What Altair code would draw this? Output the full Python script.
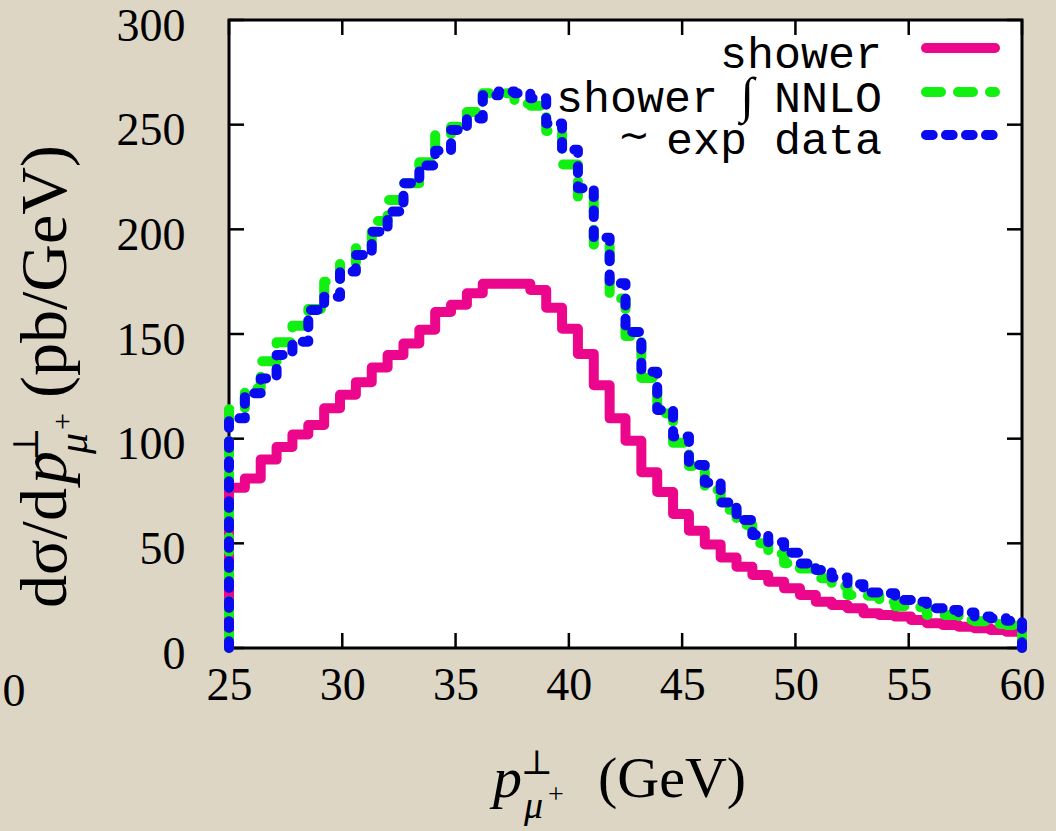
import altair as alt
import pandas as pd

# ---------------- data ----------------
x_first_edge = 25.0
bin_width = 0.7

shower = [76.5, 81, 90, 96, 102, 106.5, 114.5, 121, 127, 134,
          140, 145.5, 152, 160.5, 164, 169.5, 174, 174, 174, 171,
          162.5, 152.5, 140.5, 125.5, 109.7, 99, 84, 74.5, 64, 56,
          49.5, 43.2, 38.8, 34.9, 31.7, 28.5, 25.3, 22.1, 20.5, 19,
          16.6, 15.8, 15, 13.4, 11.8, 11, 10.2, 9.4, 8.6, 7.8]
shower_nnlo = [114, 124, 137, 146, 154, 162, 175, 184, 191, 204,
               214, 222, 232, 245, 249, 256, 265, 265, 260, 259,
               247, 231, 215, 192, 167, 149, 129, 112, 98, 87,
               75.5, 66, 58.8, 50, 45, 40.5, 38, 33.3, 29.5, 25.3,
               25, 22.1, 20, 19.5, 15.8, 15.8, 13.4, 12.8, 11.5, 11]
exp_data = [109.7, 121.7, 128.8, 140, 146.3, 161.5, 167.8, 179.8, 187.7, 198.9,
            208.5, 222, 230.5, 237.5, 247.5, 253, 264, 265.8, 265, 262.6,
            250.6, 238, 219.6, 196, 174.2, 151, 132, 113.7, 101, 87.4,
            79, 69.5, 61.2, 54, 50.5, 45.5, 40.4, 37.3, 33.7, 30.5,
            26.5, 26.1, 22.9, 22.1, 19, 18.2, 17, 15, 14.2, 13]

x_ticks = [25, 30, 35, 40, 45, 50, 55, 60]
y_ticks = [0, 50, 100, 150, 200, 250, 300]

# ---------------- layout ----------------
W, H = 793, 628
LEFT, TOP = 229, 20
BG = "#ddd6c5"
PINK = "#ec068c"
GREEN = "#12f012"
BLUE = "#0a0af0"
SERIF = "Liberation Serif"
MONO = "Liberation Mono"
LW = 10

xscale = alt.Scale(domain=[25, 60], nice=False, zero=False)
yscale = alt.Scale(domain=[0, 300], nice=False, zero=True)
xaxis = alt.Axis(values=x_ticks, ticks=False, domain=False, grid=False, title=None,
                 labelFont=SERIF, labelFontSize=46, labelColor="black", labelPadding=15,
                 labelFlush=False, labelOverlap=False, labelBound=False)
yaxis = alt.Axis(values=y_ticks, ticks=False, domain=False, grid=False, title=None,
                 labelFont=SERIF, labelFontSize=46, labelColor="black", labelPadding=44,
                 labelBaseline="middle", labelOffset=6, labelOverlap=False, labelBound=False,
                 labelFlush=False)


def step_frame(values):
    edges = [round(x_first_edge + bin_width * i, 3) for i in range(len(values) + 1)]
    xs = [edges[0]] + edges[:-1] + [edges[-1], edges[-1]]
    ys = [0] + list(values) + [values[-1], 0]
    return pd.DataFrame({"x": xs, "y": ys, "o": list(range(len(xs)))})


def hist_line(values, color, dash=None):
    kw = dict(interpolate="step-after", strokeWidth=LW, strokeCap="round",
              strokeJoin="round", color=color, clip=False)
    if dash is not None:
        kw["strokeDash"] = dash
    return alt.Chart(step_frame(values)).mark_line(**kw).encode(
        x=alt.X("x:Q", scale=xscale, axis=xaxis),
        y=alt.Y("y:Q", scale=yscale, axis=yaxis),
        order="o:Q",
    )


def txt(text, x, y, size, font=SERIF, align="left", angle=0, style="normal",
        baseline="alphabetic"):
    return alt.Chart(pd.DataFrame({"t": [text]})).mark_text(
        text=text, font=font, fontSize=size, align=align, angle=angle,
        fontStyle=style, baseline=baseline, color="black"
    ).encode(x=alt.value(x), y=alt.value(y))


def legend_rule(y, color, dash=None):
    kw = dict(strokeWidth=LW, strokeCap="round", color=color)
    if dash is not None:
        kw["strokeDash"] = dash
    return alt.Chart(pd.DataFrame({"a": [0]})).mark_rule(**kw).encode(
        x=alt.value(926 - LEFT), x2=alt.value(995 - LEFT), y=alt.value(y - TOP))


xt = pd.DataFrame({"v": x_ticks})
yt = pd.DataFrame({"v": y_ticks})
TL = 15
tick_kw = dict(color="black", strokeWidth=2.5)
ticks = [
    alt.Chart(xt).mark_rule(**tick_kw).encode(
        x=alt.X("v:Q", scale=xscale, axis=xaxis), y=alt.value(H), y2=alt.value(H - TL)),
    alt.Chart(xt).mark_rule(**tick_kw).encode(
        x=alt.X("v:Q", scale=xscale, axis=xaxis), y=alt.value(0), y2=alt.value(TL)),
    alt.Chart(yt).mark_rule(**tick_kw).encode(
        y=alt.Y("v:Q", scale=yscale, axis=yaxis), x=alt.value(0), x2=alt.value(TL)),
    alt.Chart(yt).mark_rule(**tick_kw).encode(
        y=alt.Y("v:Q", scale=yscale, axis=yaxis), x=alt.value(W), x2=alt.value(W - TL)),
]

lines = [
    hist_line(shower, PINK),
    hist_line(shower_nnlo, GREEN, [15, 17]),
    hist_line(exp_data, BLUE, [6.7, 13.3]),
]

legend = [
    legend_rule(48, PINK),
    legend_rule(92, GREEN, [15, 17]),
    legend_rule(135, BLUE, [6.7, 13.3]),
    txt("shower", 882 - LEFT, 68 - TOP, 45, font=MONO, align="right"),
    txt("NNLO", 882 - LEFT, 112 - TOP, 45, font=MONO, align="right"),
    txt("\u222b", 747 - LEFT, 112 - TOP, 50, font=SERIF, align="center", style="italic"),
    txt("shower", 718 - LEFT, 112 - TOP, 45, font=MONO, align="right"),
    txt("exp data", 882 - LEFT, 154 - TOP, 45, font=MONO, align="right"),
    txt("\u223c", 634 - LEFT, 148 - TOP, 38, font=SERIF, align="center"),
]

# x axis title: p^perp_{mu+} (GeV)
xtitle = [
    txt("p", 493 - LEFT, 797 - TOP, 58, style="italic"),
    txt("\u22a5", 537 - LEFT, 774 - TOP, 34, font="DejaVu Serif", align="center"),
    txt("\u03bc", 524 - LEFT, 818 - TOP, 38, style="italic"),
    txt("+", 548 - LEFT, 803 - TOP, 28),
    txt("(GeV)", 598 - LEFT, 797 - TOP, 58),
]

# y axis title (rotated): dσ/dp^perp_{mu+} (pb/GeV)
YB = 66  # baseline x (real px)
ytitle = [
    txt("d\u03c3/d", YB - LEFT, 608 - TOP, 66, angle=270),
    txt("p", YB - LEFT, 484 - TOP, 66, angle=270, style="italic"),
    txt("\u22a5", 38 - LEFT, 444 - TOP, 36, font="DejaVu Serif", angle=270, align="center"),
    txt("\u03bc", 87 - LEFT, 454 - TOP, 42, angle=270, style="italic"),
    txt("+", 72 - LEFT, 430 - TOP, 30, angle=270),
    txt("(pb/GeV)", YB - LEFT, 398 - TOP, 66, angle=270),
]

stray = [txt("0", 14 - LEFT, 692 - TOP, 46, align="center", baseline="middle")]

chart = alt.layer(*(ticks + lines + legend + xtitle + ytitle + stray)).properties(
    width=W, height=H,
    autosize=alt.AutoSizeParams(type="none"),
    padding={"left": LEFT, "top": TOP, "right": 1056 - LEFT - W, "bottom": 831 - TOP - H},
    background=BG,
).configure_view(fill="white", stroke="black", strokeWidth=3)

chart.save("out.html", embed_options={"renderer": "svg", "actions": False})
